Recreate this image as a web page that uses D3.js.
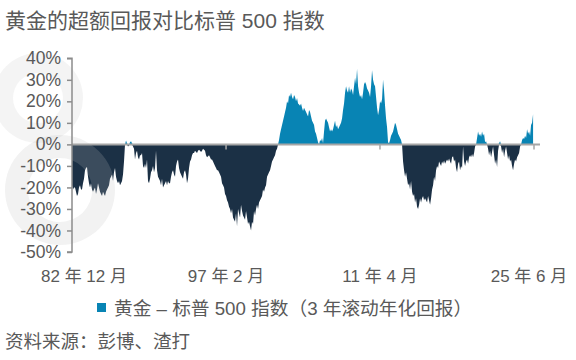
<!DOCTYPE html>
<html><head><meta charset="utf-8">
<script src="https://cdn.jsdelivr.net/npm/d3@7"></script>
<style>
body{margin:0;background:#fff;}
text{font-family:"Liberation Sans","Noto Sans CJK SC",sans-serif;fill:#595959;}
</style></head>
<body><svg id="c" width="576" height="360"></svg>
<script>
const title = "黄金的超额回报对比标普 500 指数";
const seriesName = "黄金 – 标普 500 指数（3 年滚动年化回报）";
const source = "资料来源：彭博、渣打";
const dataStart = "1982-12-01", dataEnd = "2025-05-01";
const axisStart = "1982-12-01", axisEnd = "2025-06-01";
const tickDates = ["1982-12-01","1997-02-01","2011-04-01","2025-06-01"];
const tickLabels = ["82 年 12 月","97 年 2 月","11 年 4 月","25 年 6 月"];
const yTicks = [40,30,20,10,0,-10,-20,-30,-40,-50];
// excess return, % (3y rolling annualised), evenly sampled
const values = [
-19,-21,-20,-20,-22,-24,-23,-20,-19,-21,
-21,-18,-16,-12,-11,-10.5,-15,-18,-20,-18,
-21,-22,-21,-20,-23,-21,-18,-20,-22,-23,
-24,-22,-23,-24,-22,-21,-20,-19,-16,-15,
-14,-17,-13,-11,-15,-17,-18,-17,-19,-18,
-17,-14,-8,0,1.8,0.5,-1,-0.5,1,1.5,
0.5,-1,-2,-7,-4,-3,-6,-7,-5,-5,
-4,-10,-11,-9,-11,-7,-17,-18,-16,-13,
-12,-10,-13,-11,-3,-12,-15,-16,-17,-19,
-16,-20,-19,-18,-17,-19,-17,-18,-18,-15,
-13,-12,-14,-15,-10,-8,-7,-11,-13,-14,
-15,-16,-13,-12,-14,-18,-16,-11,-8,-7,
-5,-4,-4,-3,-3.5,-4,-3,-2.5,-3,-3.5,
-3,-2,-2.5,-3,-5,-6,-5.5,-5,-6,-7,
-7,-8,-9,-10,-11,-12,-12,-13,-14,-15,
-18,-19,-20,-23,-24,-26,-27,-29,-30,-32,
-30,-34,-35,-36,-32,-38,-30,-32,-34,-28,
-31,-33,-34,-35,-31,-34,-37,-36,-38,-40,
-36,-37,-31,-33,-30,-28,-30,-27,-26,-25,
-24,-21,-22,-20,-19,-15,-14,-13,-12,-10,
-8,-7,-6,-5,-3,-2,0,2,5,7,
9,11,13,15,17,20,19,23,22,24,
22,21,23,22,20,21.5,19,18.5,18,19,
17,15.5,17,16,15,14,13,16,15,13,
11,10,9,6,5,3,1,0,2,1.5,
3,0.5,6,11,12,11,10,8,6,7,
6,7,9,11,8,9,7,8,9,10,
12,16,19,24,27,25,24,27,24,26,
25,23,27,31,28,35,27,24,22,23,
21,24,28,29,28,26,25,24,22,27,
34.5,30,28,27,22,17,13.5,16,20,19,
21,30,25,18,12,8,1,0.5,2,4,
5,6,8,10,9,7,5,4,3,2,
0,-8,-12,-15,-13,-16,-19,-18,-21,-17,
-22,-24,-23,-27,-25,-29,-30,-28,-25,-27,
-25,-24,-26,-25,-26,-27,-24,-26,-28,-25,
-21,-19,-15,-17,-12,-10,-11,-8,-9,-10,
-8,-9,-7.5,-9,-8,-7,-8,-6.5,-8,-9,
-6,-5.5,-8,-7,-11,-13,-9,-8,-12,-10,
-11,-1,-8,-10,-8,-7,-9,-6,-5,-6,
-4.5,-6,-4,-1,0,3,6,4,5,3.5,
6,4,5,1,1.5,0,-2,-5,-3,-6,
-3.5,-1,-5,-9,-7,-10.5,-3,0.5,1.5,-1,
-4,-2,-6,-3,-1,-4,-7,-5,-8,-7,
-10,-12,-9,-7,-8,-6,-5,-4,-1,0,
2,3,2.5,4,3,7,5,6,4,9,
10,14
];
const posColor = "#0884b4", negColor = "#1b3045";

const svg = d3.select("#c");
const parse = d3.timeParse("%Y-%m-%d");
const t0 = parse(dataStart), t1 = parse(dataEnd);
const dates = values.map((_, i) => new Date(+t0 + (t1 - t0) * i / (values.length - 1)));
const data = values.map((v, i) => ({d: dates[i], v}));

const x = d3.scaleTime().domain([parse(axisStart), parse(axisEnd)]).range([72, 534]);
const y = d3.scaleLinear().domain([-50, 40]).range([252, 58.3]);

// areas
svg.append("path").datum(data)
  .attr("fill", negColor)
  .attr("d", d3.area().x(d => x(d.d)).y0(y(0)).y1(d => y(Math.min(0, d.v))));
svg.append("path").datum(data)
  .attr("fill", posColor)
  .attr("d", d3.area().x(d => x(d.d)).y0(y(0)).y1(d => y(Math.max(0, d.v))));

// watermark
const arc = d3.arc();
svg.append("path").attr("transform", "translate(38,98)")
  .attr("fill", "#c0c0c0").attr("fill-opacity", 0.18)
  .attr("d", arc({innerRadius: 25, outerRadius: 45, startAngle: 0, endAngle: 2 * Math.PI}));
svg.append("path").attr("transform", "translate(60,190)")
  .attr("fill", "#c0c0c0").attr("fill-opacity", 0.2)
  .attr("d", arc({innerRadius: 32, outerRadius: 55, startAngle: -0.2, endAngle: 2 * Math.PI - 0.2}));

// zero line (category axis)
svg.append("line").attr("x1", 72).attr("x2", 540).attr("y1", y(0)).attr("y2", y(0))
  .attr("stroke", "#a6a6a6").attr("stroke-width", 2);
tickDates.forEach((td, i) => {
  if (i === 0) return;
  svg.append("line").attr("x1", x(parse(td))).attr("x2", x(parse(td)))
    .attr("y1", y(0)).attr("y2", y(0) + 5).attr("stroke", "#a6a6a6").attr("stroke-width", 1.5);
});

// y axis
const yAxis = d3.axisLeft(y).tickValues(yTicks).tickSize(5).tickFormat(d => d + "%");
const ga = svg.append("g").attr("transform", "translate(72,0)").call(yAxis);
ga.select(".domain").attr("stroke", "#8c8c8c").attr("stroke-width", 1.5).attr("d", "M-5," + y(40) + "H0V" + y(-50) + "H-5");
ga.selectAll(".tick line").attr("stroke", "#8c8c8c").attr("stroke-width", 1.5);
ga.selectAll(".tick text").attr("x", -11).attr("font-size", 17.5)
  .style("font-family", '"Liberation Sans",sans-serif').attr("fill", "#595959");

// x labels
const shift = [12, 0, 0, -5];
tickDates.forEach((td, i) => {
  svg.append("text").attr("x", x(parse(td)) + shift[i]).attr("y", 282)
    .attr("text-anchor", "middle").attr("font-size", 17).text(tickLabels[i]);
});

// title
svg.append("text").attr("x", 5).attr("y", 28).attr("font-size", 21).text(title);

// legend
svg.append("rect").attr("x", 97).attr("y", 303).attr("width", 9).attr("height", 9).attr("fill", posColor);
svg.append("text").attr("x", 114).attr("y", 315).attr("font-size", 18.7).text(seriesName);

// source
svg.append("text").attr("x", 5).attr("y", 348).attr("font-size", 18.5).text(source);
</script>
</body></html>
